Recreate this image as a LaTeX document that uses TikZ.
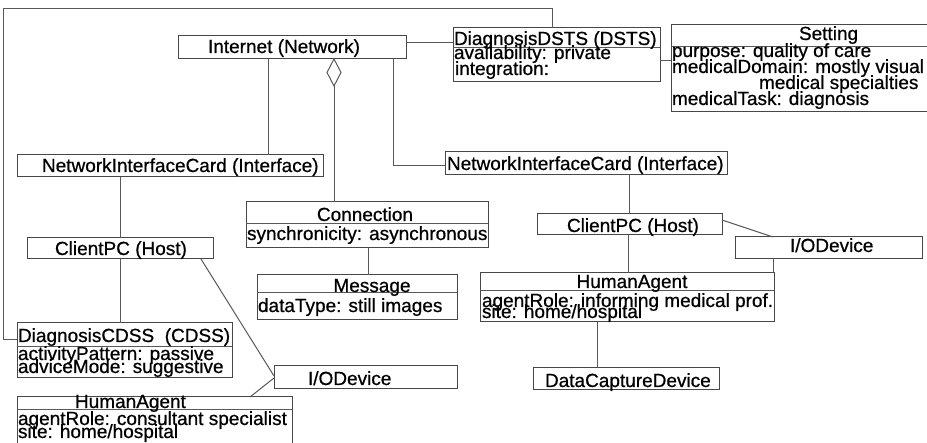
\documentclass[tikz,border=0pt]{standalone}
\usepackage{fontspec}
\setmainfont[FakeBold=0.7]{Liberation Sans}
\begin{document}
\begin{tikzpicture}[x=1pt,y=-1pt,
  box/.style={draw=black!72, line width=1pt, fill=white, inner sep=0pt, outer sep=0pt, anchor=north west},
  link/.style={draw=black!65, line width=1pt},
  txt/.style={anchor=base west, inner sep=0pt, outer sep=0pt, font=\fontsize{19}{19}\selectfont},
  ctxt/.style={anchor=base, inner sep=0pt, outer sep=0pt, font=\fontsize{19}{19}\selectfont}]
\useasboundingbox (0,0) rectangle (927,443);
\fill[white] (0,0) rectangle (927,443);
\clip (0,0) rectangle (927,443);

\coordinate (diab) at (334,86);
\coordinate (diat) at (334,59);
\coordinate (topr) at (552,9);
\coordinate (topl) at (3,9);

% boxes
\node[box, minimum width=228pt, minimum height=23pt] (inet) at (178,36) {};
\node[box, minimum width=207pt, minimum height=54pt] (dsts) at (453,28) {};
\node[box, minimum width=262pt, minimum height=87pt] (setting) at (671,25) {};
\node[box, minimum width=306pt, minimum height=22pt] (nic1) at (17,155) {};
\node[box, minimum width=282pt, minimum height=23pt] (nic2) at (445,152) {};
\node[box, minimum width=242pt, minimum height=46pt] (conn) at (246,202) {};
\node[box, minimum width=200pt, minimum height=45pt] (msg) at (257,275) {};
\node[box, minimum width=186pt, minimum height=21pt] (cpc1) at (27,238) {};
\node[box, minimum width=185pt, minimum height=21pt] (cpc2) at (537,214) {};
\node[box, minimum width=187pt, minimum height=22pt] (io2) at (735,237) {};
\node[box, minimum width=294pt, minimum height=49pt] (ha2) at (480,273) {};
\node[box, minimum width=215pt, minimum height=55pt] (cdss) at (17,323) {};
\node[box, minimum width=183pt, minimum height=23pt] (io1) at (274,366) {};
\node[box, minimum width=275pt, minimum height=63pt] (ha1) at (17,397) {};
\node[box, minimum width=186pt, minimum height=22pt] (dcd) at (533,368) {};

% compartment dividers
\draw[link] (dsts.west |- 0,48) -- (dsts.east |- 0,48);
\draw[link] (setting.west |- 0,47) -- (setting.east |- 0,47);
\draw[link] (conn.west |- 0,224) -- (conn.east |- 0,224);
\draw[link] (msg.west |- 0,293) -- (msg.east |- 0,293);
\draw[link] (ha2.west |- 0,291) -- (ha2.east |- 0,291);
\draw[link] (cdss.west |- 0,347) -- (cdss.east |- 0,347);
\draw[link] (ha1.west |- 0,410) -- (ha1.east |- 0,410);

% connectors
\draw[link] (268,0 |- inet.south) -- (268,0 |- nic1.north);
\draw[link] (diab) -- (334,0 |- conn.north);
\draw[link, fill=white] (diat) -- (341,72.5) -- (diab) -- (327,72.5) -- cycle;
\draw[link] (393,0 |- inet.south) |- (nic2.west |- 0,166);
\draw[link] (inet.east |- 0,43) -- (dsts.west |- 0,43);
\draw[link] (552,0 |- dsts.north) -- (topr) -- (topl) |- (cdss.west |- 0,340);
\draw[link] (dsts.east |- 0,61) -- (setting.west |- 0,61);
\draw[link] (120,0 |- nic1.south) -- (120,0 |- cpc1.north);
\draw[link] (120,0 |- cpc1.south) -- (120,0 |- cdss.north);
\draw[link] (201,0 |- cpc1.south) -- (io1.west |- 0,376);
\draw[link] (io1.west |- 0,378) -- (250,0 |- ha1.north);
\draw[link] (629,0 |- nic2.south) -- (629,0 |- cpc2.north);
\draw[link] (628,0 |- cpc2.south) -- (628,0 |- ha2.north);
\draw[link] (cpc2.east |- 0,220) -- (773,0 |- io2.north);
\draw[link] (773,0 |- io2.south) -- (773,0 |- ha2.north);
\draw[link] (597,0 |- ha2.south) -- (597,0 |- dcd.north);
\draw[link] (368,0 |- conn.south) -- (368,0 |- msg.north);

% texts
\node[txt] (t1) at (208,53) {Internet (Network)};
\node[txt] (t2) at (454,45) {DiagnosisDSTS (DSTS)};
\node[txt] (t3) at (454,59) {availability: private};
\node[txt] (t4) at (455,75) {integration:};
\node[txt] (t5) at (799,40) {Setting};
\node[txt] (t6) at (672,57) {purpose: quality of care};
\node[txt] (t7) at (672,73) {medicalDomain: mostly visual};
\node[txt] (t8) at (759,89) {medical specialties};
\node[txt] (t9) at (672,105) {medicalTask: diagnosis};
\node[txt] (t10) at (42,172) {NetworkInterfaceCard (Interface)};
\node[txt] (t11) at (447,170) {NetworkInterfaceCard (Interface)};
\node[ctxt] (t12) at (365,221) {Connection};
\node[txt] (t13) at (247,240) {synchronicity: asynchronous};
\node[ctxt] (t14) at (372,292) {Message};
\node[txt] (t15) at (258,312) {dataType: still images};
\node[txt] (t16) at (55,255) {ClientPC (Host)};
\node[txt] (t17) at (567,232) {ClientPC (Host)};
\node[txt] (t18) at (790,252) {I/ODevice};
\node[txt] (t19) at (308,385) {I/ODevice};
\node[txt] (t20) at (545,387) {DataCaptureDevice};
\node[txt] (t21) at (18,342) {DiagnosisCDSS\ \ (CDSS)};
\node[txt] (t22) at (18,360) {activityPattern: passive};
\node[txt] (t23) at (18,373) {adviceMode: suggestive};
\node[txt] (t24) at (75,408) {HumanAgent};
\node[txt] (t25) at (18,425) {agentRole: consultant specialist};
\node[txt] (t26) at (18,438) {site: home/hospital};
\node[ctxt] (t27) at (632,288) {HumanAgent};
\node[txt] (t28) at (482,307) {agentRole: informing medical prof.};
\node[txt] (t29) at (482,318) {site: home/hospital};
\end{tikzpicture}
\end{document}
